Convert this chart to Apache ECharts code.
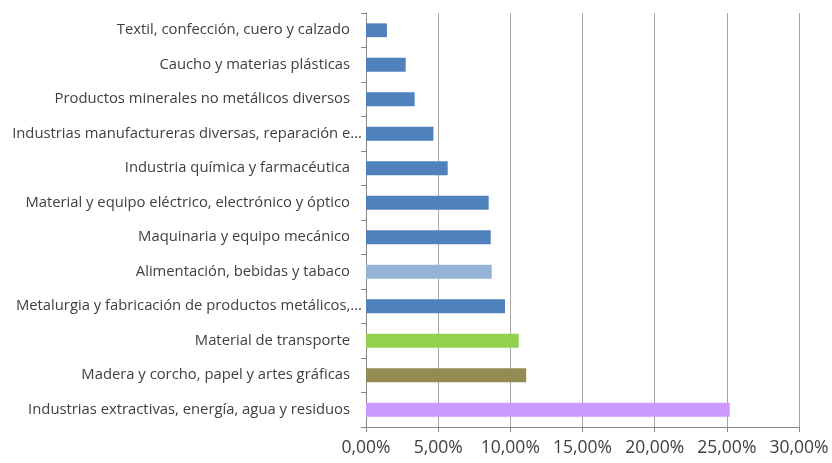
<!DOCTYPE html>
<html>
<head>
<meta charset="utf-8">
<script src="https://cdn.jsdelivr.net/npm/echarts@6/dist/echarts.min.js"></script>
<style>
  html, body { margin: 0; padding: 0; background: #fff; }
  #chart { width: 832px; height: 463px; }
</style>
</head>
<body>
<div id="chart"></div>
<script>
// categories listed bottom to top, as the y axis draws them
const sectors = [
  'Industrias extractivas, energía, agua y residuos',
  'Madera y corcho, papel y artes gráficas',
  'Material de transporte',
  'Metalurgia y fabricación de productos metálicos,...',
  'Alimentación, bebidas y tabaco',
  'Maquinaria y equipo mecánico',
  'Material y equipo eléctrico, electrónico y óptico',
  'Industria química y farmacéutica',
  'Industrias manufactureras diversas, reparación e...',
  'Productos minerales no metálicos diversos',
  'Caucho y materias plásticas',
  'Textil, confección, cuero y calzado'
]
const shares = [25.2, 11.1, 10.58, 9.63, 8.71, 8.64, 8.5, 5.66, 4.67, 3.37, 2.75, 1.45]
const barColors = ['#CC99FF', '#948A54', '#92D050', '#4F81BD', '#95B3D7', '#4F81BD',
  '#4F81BD', '#4F81BD', '#4F81BD', '#4F81BD', '#4F81BD', '#4F81BD']

const chart = echarts.init(document.getElementById('chart'))

// truncated labels run closer to the axis than the others
const yLabels = sectors.map((s) => ({
  value: s,
  textStyle: { padding: [0, s.endsWith('...') ? 0 : 12, 0, 0] },
}))

chart.setOption({
  backgroundColor: '#ffffff',
  animation: false,
  grid: {
    left: 366,
    right: 33,
    top: 13,
    bottom: 36,
  },
  xAxis: {
    type: 'value',
    min: 0,
    max: 30,
    interval: 5,
    axisLine: {
      show: true,
      lineStyle: { color: '#868686' },
    },
    axisTick: {
      show: true,
      length: 5,
      lineStyle: { color: '#868686' },
    },
    axisLabel: {
      margin: 12,
      fontFamily: 'Open Sans',
      fontSize: 17.5,
      color: '#404040',
      formatter: (v) => v.toFixed(2).replace('.', ',') + '%',
    },
    splitLine: {
      lineStyle: { color: '#A6A6A6', width: 1 },
    },
  },
  yAxis: {
    type: 'category',
    data: yLabels,
    axisLine: {
      show: true,
      lineStyle: { color: '#868686' },
    },
    axisTick: {
      show: true,
      length: 5,
      lineStyle: { color: '#868686' },
    },
    axisLabel: {
      margin: 4,
      fontFamily: 'Open Sans',
      fontSize: 14.8,
      color: '#404040',
    },
  },
  series: [{
    type: 'bar',
    barWidth: '40%',
    data: shares.map((v, i) => ({
      value: v,
      itemStyle: { color: barColors[i] },
    })),
  }],
})
</script>
</body>
</html>
